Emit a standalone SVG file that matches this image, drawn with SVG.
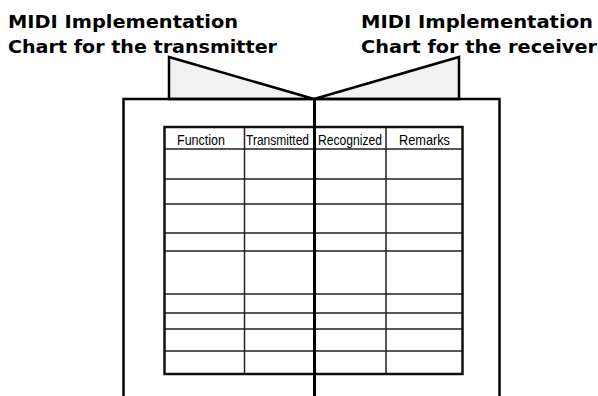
<svg xmlns="http://www.w3.org/2000/svg" width="598" height="396" viewBox="0 0 598 396">
<style>
.title{font-family:"DejaVu Sans","Liberation Sans",sans-serif;font-weight:bold;font-size:18px;fill:#000}
.hdr{font-family:"Liberation Sans",Arial,sans-serif;font-size:14.5px;fill:#000}
.flap{fill:#f2f2f2;stroke:#000;stroke-width:2.5;stroke-linejoin:miter}
.page{fill:none;stroke:#000;stroke-width:2.5}
.grid{stroke:#222;stroke-width:1.5;fill:none}
.frame{fill:none;stroke:#111;stroke-width:2.5}
</style>
<rect width="598" height="396" fill="#fff"/>
<g id="label-transmitter">
<text class="title" x="8" y="28" textLength="230" lengthAdjust="spacingAndGlyphs">MIDI Implementation</text>
<text class="title" x="8" y="53" textLength="269" lengthAdjust="spacingAndGlyphs">Chart for the transmitter</text>
</g>
<g id="label-receiver">
<text class="title" x="361" y="28" textLength="232" lengthAdjust="spacingAndGlyphs">MIDI Implementation</text>
<text class="title" x="361" y="53" textLength="236" lengthAdjust="spacingAndGlyphs">Chart for the receiver</text>
</g>
<g id="book">
<polygon class="flap" points="169,99 169,57 314,99"/>
<polygon class="flap" points="314,99 459,57 459,99"/>
<path class="page" d="M123.5,396 V99 H499.5 V396"/>
</g>
<g id="chart">
<g class="grid">
<path d="M164,149 H463 M164,179 H463 M164,204 H463 M164,233 H463 M164,251 H463 M164,294 H463 M164,313 H463 M164,329 H463 M164,351 H463"/>
<path d="M244.5,127 V374 M386,127 V374"/>
</g>
<rect class="frame" x="164.5" y="127" width="298" height="247"/>
<text class="hdr" x="177" y="145" textLength="48" lengthAdjust="spacingAndGlyphs">Function</text>
<text class="hdr" x="246" y="145" textLength="63" lengthAdjust="spacingAndGlyphs">Transmitted</text>
<text class="hdr" x="318" y="145" textLength="64" lengthAdjust="spacingAndGlyphs">Recognized</text>
<text class="hdr" x="399" y="145" textLength="51" lengthAdjust="spacingAndGlyphs">Remarks</text>
</g>
<g id="spine">
<line x1="314.5" y1="98" x2="314.5" y2="396" stroke="#000" stroke-width="3"/>
</g>
</svg>
